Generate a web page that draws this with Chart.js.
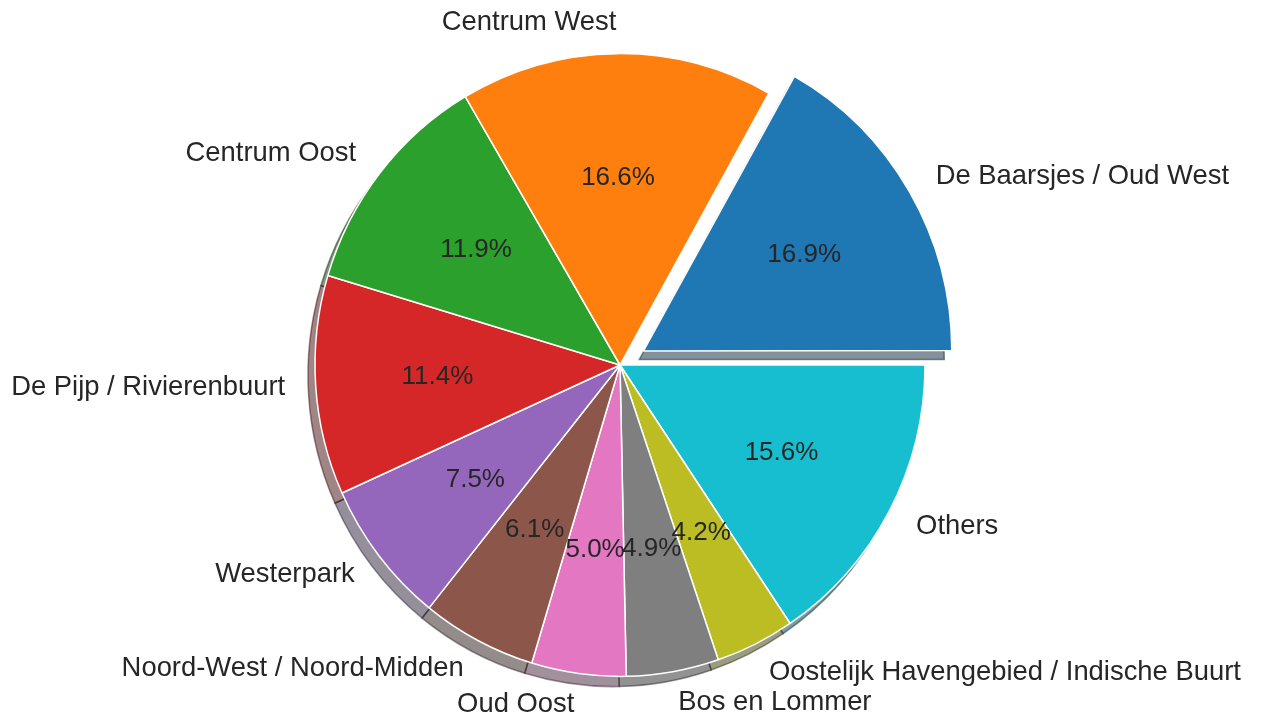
<!DOCTYPE html>
<html>
<head>
<meta charset="utf-8">
<title>Listings per neighbourhood</title>
<script src="https://cdn.jsdelivr.net/npm/chart.js@4"></script>
<style>
  html, body { margin: 0; padding: 0; background: #ffffff; }
  canvas { display: block; }
</style>
</head>
<body>
<canvas id="pie" width="1261" height="721"></canvas>
<script>
// values in matplotlib order (counter-clockwise from 3 o'clock)
const neighbourhoods = [
  "De Baarsjes / Oud West",
  "Centrum West",
  "Centrum Oost",
  "De Pijp / Rivierenbuurt",
  "Westerpark",
  "Noord-West / Noord-Midden",
  "Oud Oost",
  "Bos en Lommer",
  "Oostelijk Havengebied / Indische Buurt",
  "Others",
];
const shares = [16.9, 16.6, 11.9, 11.4, 7.5, 6.1, 5.0, 4.9, 4.2, 15.6];
const explode = [0.1, 0, 0, 0, 0, 0, 0, 0, 0, 0];
const colors = [
  "#1f77b4", "#ff7f0e", "#2ca02c", "#d62728", "#9467bd",
  "#8c564b", "#e377c2", "#7f7f7f", "#bcbd22", "#17becf",
];

const RADIUS = 305;
const STRETCH_Y = 1.021; // the original figure is a touch taller than wide
const TEXT_COLOR = "#262626";
const FONT = "'Liberation Sans', Arial, sans-serif";

// Chart.js draws clockwise, matplotlib counter-clockwise: flip the order
const labels = neighbourhoods.slice().reverse();
const values = shares.slice().reverse();
const explodes = explode.slice().reverse();
const fills = colors.slice().reverse();

const total = values.reduce((a, b) => a + b, 0);

// ArcElement moves a slice by offset/4 * (1 + (1 - sin(angle)))
const shiftFactor = (value) => {
  const circ = (value / total) * 2 * Math.PI;
  return 0.25 * (2 - Math.sin(Math.min(Math.PI, circ)));
};
const offsets = values.map((v, i) => (explodes[i] * RADIUS) / shiftFactor(v));

const sliceCenter = (arc, value) => {
  const mid = (arc.startAngle + arc.endAngle) / 2;
  const shift = (arc.options.offset || 0) * shiftFactor(value);
  return {
    mid: mid,
    x: arc.x + Math.cos(mid) * shift,
    y: arc.y + Math.sin(mid) * shift,
  };
};

const darken = (hex) => {
  const n = parseInt(hex.slice(1), 16);
  const r = Math.round(((n >> 16) & 255) * 0.3);
  const g = Math.round(((n >> 8) & 255) * 0.3);
  const b = Math.round((n & 255) * 0.3);
  return `rgba(${r},${g},${b},0.5)`;
};

const stretchPlugin = {
  id: "stretch",
  beforeDatasetsDraw(chart) {
    const ctx = chart.ctx;
    const cy = (chart.chartArea.top + chart.chartArea.bottom) / 2;
    ctx.save();
    ctx.translate(0, cy);
    ctx.scale(1, STRETCH_Y);
    ctx.translate(0, -cy);
  },
  afterDatasetsDraw(chart) {
    chart.ctx.restore();
  },
};

const shadowPlugin = {
  id: "shadow",
  beforeDatasetsDraw(chart) {
    const ctx = chart.ctx;
    const meta = chart.getDatasetMeta(0);
    ctx.save();
    meta.data.forEach((arc, i) => {
      const c = sliceCenter(arc, values[i]);
      const x = c.x - 7;
      const y = c.y + 10;
      ctx.beginPath();
      ctx.moveTo(x, y);
      ctx.arc(x, y, arc.outerRadius, arc.startAngle, arc.endAngle);
      ctx.closePath();
      ctx.fillStyle = darken(fills[i]);
      ctx.strokeStyle = darken(fills[i]);
      ctx.lineWidth = 1.5;
      ctx.fill();
      ctx.stroke();
    });
    ctx.restore();
  },
};

// text is drawn after the stretch is undone, so only its anchor is stretched
const textPlugin = {
  id: "pieText",
  afterDatasetsDraw(chart) {
    const ctx = chart.ctx;
    const meta = chart.getDatasetMeta(0);
    ctx.save();
    ctx.fillStyle = TEXT_COLOR;
    ctx.textBaseline = "middle";
    meta.data.forEach((arc, i) => {
      const c = sliceCenter(arc, values[i]);
      const r = arc.outerRadius;
      const cos = Math.cos(c.mid);
      const sin = Math.sin(c.mid);
      const sy = (y) => arc.y + (y - arc.y) * STRETCH_Y;

      ctx.font = `27.4px ${FONT}`;
      ctx.textAlign = cos > 0 ? "left" : "right";
      ctx.fillText(labels[i], c.x + cos * r * 1.1, sy(c.y + sin * r * 1.1));

      ctx.font = `26px ${FONT}`;
      ctx.textAlign = "center";
      ctx.fillText(values[i].toFixed(1) + "%", c.x + cos * r * 0.6, sy(c.y + sin * r * 0.6));
    });
    ctx.restore();
  },
};

new Chart(document.getElementById("pie"), {
  type: "pie",
  data: {
    labels: labels,
    datasets: [
      {
        data: values,
        backgroundColor: fills,
        borderColor: "#ffffff",
        borderWidth: 1.5,
        offset: offsets,
      },
    ],
  },
  options: {
    responsive: false,
    animation: false,
    devicePixelRatio: 1,
    events: [],
    rotation: 90,
    radius: RADIUS,
    layout: {
      padding: { left: 0, right: 21, top: 9, bottom: 0 },
    },
    plugins: {
      legend: { display: false },
      tooltip: { enabled: false },
    },
  },
  plugins: [stretchPlugin, shadowPlugin, textPlugin],
});
</script>
</body>
</html>
